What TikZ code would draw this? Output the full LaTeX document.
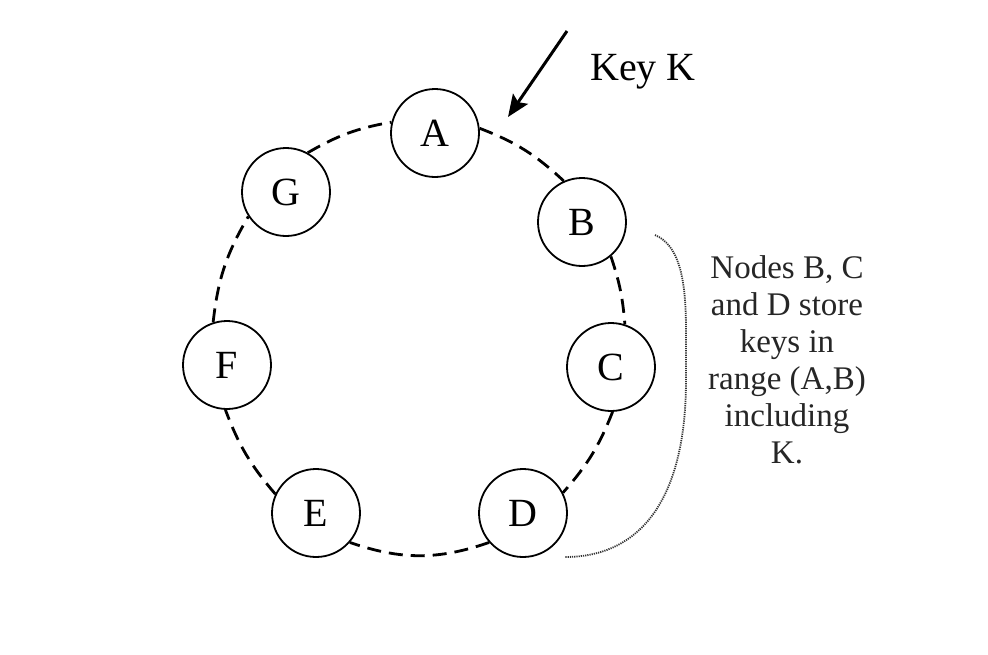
\documentclass[tikz,border=0pt]{standalone}
\usepackage{fontspec}
\setmainfont{Liberation Serif}
\usetikzlibrary{arrows.meta}
\begin{document}
\begin{tikzpicture}[x=1pt,y=-1pt,
  peer/.style={circle,draw,line width=1.8pt,minimum size=88pt,inner sep=0pt,
    font=\fontsize{40}{44}\selectfont},
  ring/.style={line width=2.8pt,dash pattern=on 14pt off 8pt},
  keyarrow/.style={line width=3pt,-{Stealth[length=22pt,width=18pt,inset=4pt]}},
  bracket/.style={line width=1.8pt,dash pattern=on 1.2pt off 1pt,draw=black!80},
  lbl/.style={inner sep=0pt,font=\fontsize{40}{44}\selectfont},
  note/.style={inner sep=0pt,align=center,text=black!85,font=\fontsize{33}{37}\selectfont}]
\useasboundingbox (0,0) rectangle (988,654);
\node[peer] (A) at (435,133) {A};
\node[peer] (B) at (582,222) {B};
\node[peer] (C) at (611,367) {C};
\node[peer] (D) at (523,513) {D};
\node[peer] (E) at (316,513) {E};
\node[peer] (F) at (227,365) {F};
\node[peer] (G) at (286,192) {G};
\draw[ring] (A.6) to[bend left=11] (B.114);
\draw[ring] (B.-50) to[bend left=7] (C.72);
\draw[ring] (C.-88) to[bend left=10] (D.27);
\draw[ring] (D.221) to[bend left=19] (E.-41);
\draw[ring] (E.155) to[bend left=10] (F.-92);
\draw[ring] (F.108) to[bend left=12] (G.213);
\draw[ring] (G.61) to[bend left=10] (A.166);
\coordinate (kt) at (567,31);
\coordinate (kh) at (508,117);
\draw[keyarrow] (kt) -- (kh);
\node[lbl,anchor=base] (key) at (643,80) {Key K};
\node[note] (range) at (787,360) {Nodes B, C\\and D store\\keys in\\range (A,B)\\including\\K.};
\coordinate (b1) at (655,235);
\coordinate (b2) at (565,557);
\draw[bracket] (b1) .. controls (678,245) and (686,275) .. (686,330) -- (686,380)
  .. controls (686,500) and (640,557) .. (b2);
\end{tikzpicture}
\end{document}
